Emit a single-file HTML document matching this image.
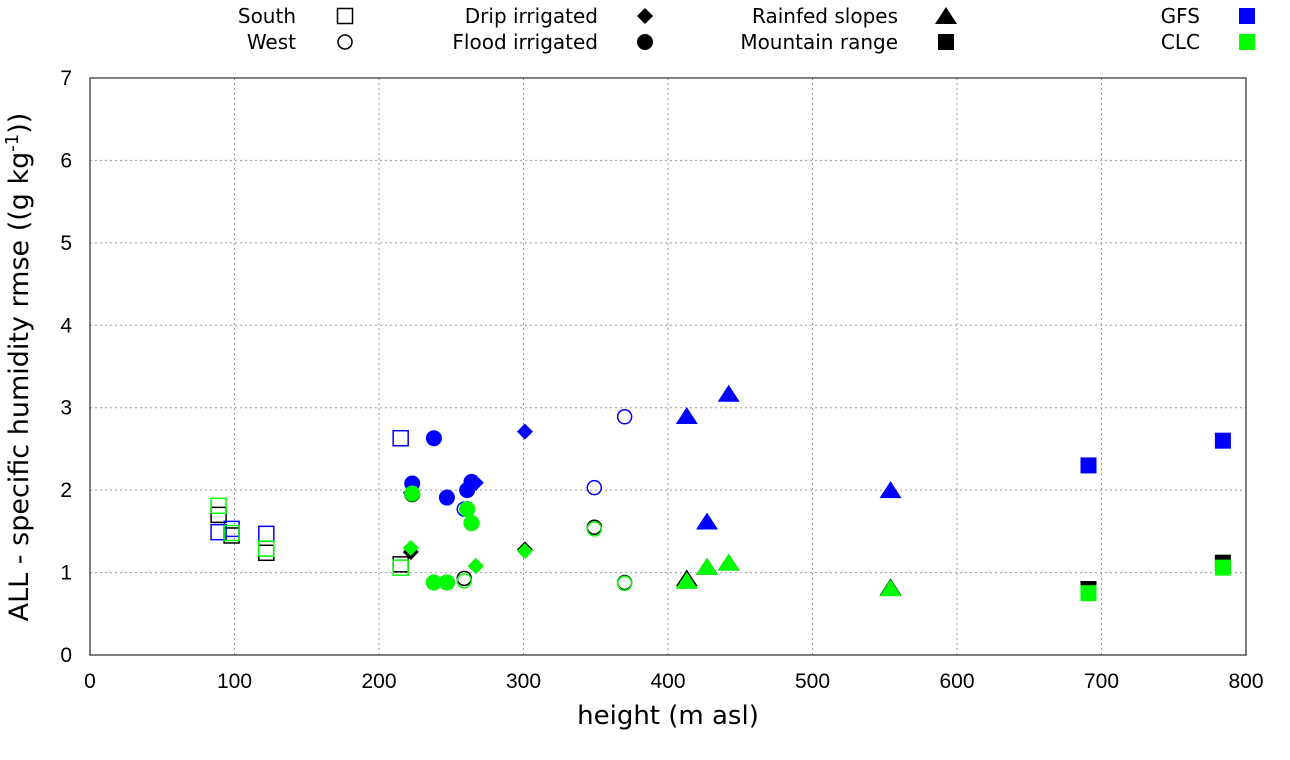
<!DOCTYPE html>
<html><head><meta charset="utf-8"><style>
body{margin:0;background:#fff;}
svg{display:block;font-family:"Liberation Sans",sans-serif;}
</style></head><body>
<svg id="chart" width="1290" height="760"></svg>
<script>
const heights = {
 south:[89,98,122,215],
 west:[259,349,370],
 drip:[222,267,301],
 flood:[223,238,247,261,264],
 rainfed:[413,427,442,554],
 mountain:[691,784]
};
const blackVals = {
 south:[1.70,1.45,1.24,1.10], west:[0.93,1.55,0.88], drip:[1.25,1.08,1.28],
 flood:[1.95,0.88,0.88,1.77,1.60], rainfed:[0.93,1.07,1.12,0.82], mountain:[0.80,1.12]
};
const gfsVals = {
 south:[1.49,1.53,1.47,2.63], west:[1.77,2.03,2.89], drip:[1.97,2.09,2.71],
 flood:[2.08,2.63,1.91,2.00,2.10], rainfed:[2.90,1.62,3.17,2.00], mountain:[2.30,2.60]
};
const clcVals = {
 south:[1.81,1.48,1.29,1.06], west:[0.90,1.53,0.87], drip:[1.30,1.08,1.26],
 flood:[1.96,0.88,0.88,1.77,1.60], rainfed:[0.90,1.07,1.12,0.81], mountain:[0.75,1.06]
};
const xTicks=[0,100,200,300,400,500,600,700,800];
const yTicks=[0,1,2,3,4,5,6,7];

const NS="http://www.w3.org/2000/svg";
const svg=document.getElementById('chart');
const L=90,R=1246,T=78,B=655;
const xs=v=>L+(v/800)*(R-L);
const ys=v=>B-(v/7)*(B-T);
const DV='"DejaVu Sans",sans-serif';
const LB='"Liberation Sans",sans-serif';
function mk(tag,attrs,parent){const e=document.createElementNS(NS,tag);for(const k in attrs)e.setAttribute(k,attrs[k]);(parent||svg).appendChild(e);return e;}

xTicks.forEach(t=>{
 if(t>0&&t<800){const g=mk('line',{x1:xs(t),x2:xs(t),y1:T,y2:B,stroke:'#999','stroke-dasharray':'2,3','stroke-width':1});
 
 }
 const tx=mk('text',{x:xs(t),y:B+33,'text-anchor':'middle','font-size':21,'font-family':LB});tx.textContent=t;
 
 
});
yTicks.forEach(t=>{
 if(t>0&&t<7){const g=mk('line',{x1:L,x2:R,y1:ys(t),y2:ys(t),stroke:'#999','stroke-dasharray':'2,3','stroke-width':1});
 
 }
 const tx=mk('text',{x:L-18,y:ys(t)+7,'text-anchor':'end','font-size':21,'font-family':LB});tx.textContent=t;
 
 
});
const frame=mk('rect',{x:L,y:T,width:R-L,height:B-T,fill:'none',stroke:'#000','stroke-width':1});



function marker(kind,cx,cy,color,parent){
 let e;
 if(kind==='south'){e=mk('rect',{x:cx-7.5,y:cy-7.5,width:15,height:15,fill:'none',stroke:color,'stroke-width':1.5},parent);}
 else if(kind==='west'){e=mk('circle',{cx:cx,cy:cy,r:7,fill:'none',stroke:color,'stroke-width':1.5},parent);}
 else if(kind==='drip'){e=mk('polygon',{points:`${cx},${cy-8} ${cx+8},${cy} ${cx},${cy+8} ${cx-8},${cy}`,fill:color},parent);}
 else if(kind==='flood'){e=mk('circle',{cx:cx,cy:cy,r:8,fill:color},parent);}
 else if(kind==='rainfed'){e=mk('polygon',{points:`${cx},${cy-9} ${cx+11},${cy+8} ${cx-11},${cy+8}`,fill:color},parent);}
 else {e=mk('rect',{x:cx-8,y:cy-8,width:16,height:16,fill:color},parent);}
 return e;
}
const series=[['black',blackVals,'#000'],['gfs',gfsVals,'#0000ff'],['clc',clcVals,'#00ff00']];
series.forEach(([nm,vals,col])=>{
 const g=mk('g',{});
 
 
 for(const k in heights){
  heights[k].forEach((h,i)=>{
   const m=marker(k,xs(h),ys(vals[k][i]),col,g);
   
   
  });
 }
});

const xt=mk('text',{x:(L+R)/2,y:724,'text-anchor':'middle','font-size':26,'font-family':DV});xt.textContent='height (m asl)';


const yt=mk('text',{x:0,y:0,'text-anchor':'middle','font-size':27,'font-family':DV,transform:'translate(28,367) rotate(-90)'});
yt.innerHTML='ALL - specific humidity rmse ((g kg<tspan dy="-10" font-size="18">-1</tspan><tspan dy="10">))</tspan>';



const legend=[['South',296,345,23,'south','#000'],['West',296,345,49,'west','#000'],
 ['Drip irrigated',598,645,23,'drip','#000'],['Flood irrigated',598,645,49,'flood','#000'],
 ['Rainfed slopes',898,946,23,'rainfed','#000'],['Mountain range',898,946,49,'mountain','#000'],
 ['GFS',1200,1247,23,'mountain','#0000ff'],['CLC',1200,1247,49,'mountain','#00ff00']];
legend.forEach(([lab,tx,sx,y,k,c])=>{
 const g=mk('g',{});
 
 
 const t=mk('text',{x:tx,y:y,'text-anchor':'end','font-size':20,'font-family':DV},g);t.textContent=lab;
 marker(k,sx,y-7,c,g);
});
</script>
</body></html>
